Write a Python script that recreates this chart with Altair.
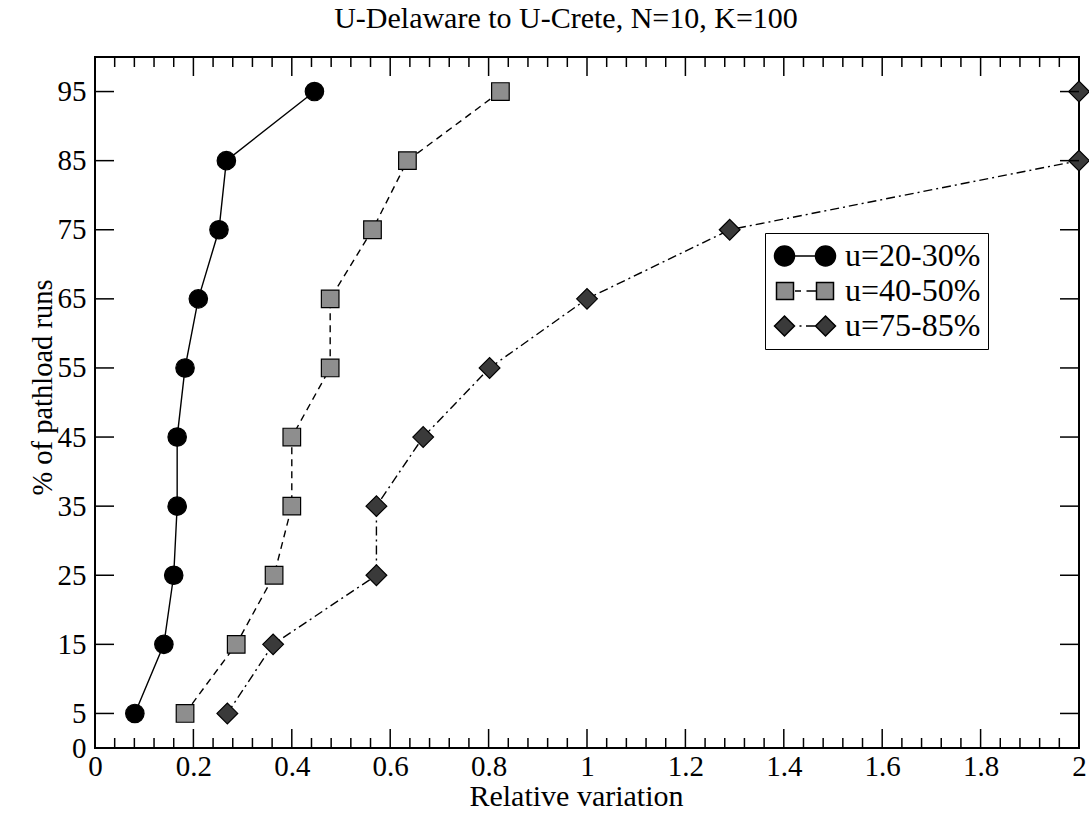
import altair as alt
import pandas as pd

# ---- data ----
pct = [5, 15, 25, 35, 45, 55, 65, 75, 85, 95]
s1 = [0.081, 0.140, 0.160, 0.167, 0.167, 0.183, 0.210, 0.252, 0.267, 0.446]
s2 = [0.183, 0.287, 0.364, 0.400, 0.400, 0.478, 0.478, 0.564, 0.635, 0.824]
s3 = [0.269, 0.362, 0.572, 0.572, 0.667, 0.802, 1.000, 1.290, 2.000, 2.000]
names = ["u=20-30%", "u=40-50%", "u=75-85%"]

x_major = [0, 0.2, 0.4, 0.6, 0.8, 1.0, 1.2, 1.4, 1.6, 1.8, 2.0]
x_minor = [0.04, 0.08, 0.12, 0.16, 0.24, 0.28, 0.32, 0.36, 0.44, 0.48, 0.52, 0.56,
           0.64, 0.68, 0.72, 0.76, 0.84, 0.88, 0.92, 0.96, 1.04, 1.08, 1.12, 1.16,
           1.24, 1.28, 1.32, 1.36, 1.44, 1.48, 1.52, 1.56, 1.64, 1.68, 1.72, 1.76,
           1.84, 1.88, 1.92, 1.96]
y_labels = [0, 5, 15, 25, 35, 45, 55, 65, 75, 85, 95]
y_ticks = [5, 15, 25, 35, 45, 55, 65, 75, 85, 95]

W, H = 984, 691
FONT = "Liberation Serif"

rows = []
for name, xs_ in zip(names, [s1, s2, s3]):
    for p, v in zip(pct, xs_):
        rows.append({"series": name, "x": v, "pct": p})
df = pd.DataFrame(rows)

xs = alt.Scale(domain=[0, 2], nice=False, zero=False)
ys = alt.Scale(domain=[0, 100], nice=False, zero=False)

x_axis = alt.Axis(values=x_major, format="~g", ticks=False, domain=False, grid=False,
                  labelFont=FONT, labelFontSize=29, labelPadding=4, labelOverlap=False,
                  labelFlush=False, labelBound=False,
                  labelColor="black", title="Relative variation", titleFont=FONT,
                  titleFontSize=30, titleFontWeight="normal", titleColor="black",
                  titleX=481, titlePadding=0)
y_axis = alt.Axis(values=y_labels, ticks=False, domain=False, grid=False,
                  labelFont=FONT, labelFontSize=29, labelPadding=9, labelOverlap=False,
                  labelFlush=False, labelBound=False,
                  labelColor="black", title="% of pathload runs", titleFont=FONT,
                  titleFontSize=28.5, titleFontWeight="normal", titleColor="black",
                  titleX=-53, titleY=330, titleBaseline="middle", titleAlign="center",
                  titleAngle=270)


def X(field):
    return alt.X(field, scale=xs, axis=x_axis, title="Relative variation")


def Y(field):
    return alt.Y(field, scale=ys, axis=y_axis, title="% of pathload runs")


styles = [
    ("circle", "black", 340, []),
    ("square", "#8e8e8e", 310, [7, 5]),
    ("diamond", "#3a3a3a", 430, [9, 4, 2, 4]),
]

layers = []
for name, (shape, fill, size, dash) in zip(names, styles):
    sub = df[df.series == name]
    line_kw = dict(color="black", strokeWidth=1.4)
    if dash:
        line_kw["strokeDash"] = dash
    line = alt.Chart(sub).mark_line(**line_kw).encode(x=X("x:Q"), y=Y("pct:Q"), order="pct:Q")
    pts = alt.Chart(sub).mark_point(shape=shape, filled=True, fill=fill, stroke="black",
                                    strokeWidth=1.2, size=size, opacity=1).encode(
        x=X("x:Q"), y=Y("pct:Q"))
    layers += [line, pts]


# inward ticks on all four sides
def vrule(vals, y1, y2):
    return alt.Chart(pd.DataFrame({"v": vals})).mark_rule(color="black", strokeWidth=1.5).encode(
        x=X("v:Q"), y=alt.value(y1), y2=alt.value(y2))


def hrule(vals, x1, x2):
    return alt.Chart(pd.DataFrame({"v": vals})).mark_rule(color="black", strokeWidth=1.5).encode(
        y=Y("v:Q"), x=alt.value(x1), x2=alt.value(x2))


layers += [
    vrule(x_major, H, H - 19), vrule(x_minor, H, H - 10),
    vrule(x_major, 0, 19), vrule(x_minor, 0, 10),
    hrule(y_ticks, 0, 19), hrule(y_ticks, W, W - 19),
]

# legend with line-and-marker symbols
paths = [
    "M-3.05,0A1,1 0 1,0 -1.05,0A1,1 0 1,0 -3.05,0Z M1.05,0A1,1 0 1,0 3.05,0A1,1 0 1,0 1.05,0Z M-1.05,0L1.05,0",
    "M-2.85,-0.85H-1.15V0.85H-2.85Z M1.15,-0.85H2.85V0.85H1.15Z M-1.0,0H-0.4M0.15,0H1.15",
    "M-3.05,0L-2.05,-1L-1.05,0L-2.05,1Z M1.05,0L2.05,-1L3.05,0L2.05,1Z M-0.55,0H-0.35M0.1,0H1.05",
]
fills = ["black", "#8e8e8e", "#3a3a3a"]
leg = alt.Legend(title=None, orient="none", legendX=670, legendY=176,
                 labelFont=FONT, labelFontSize=32, labelColor="black",
                 symbolOffset=17, labelOffset=24, rowPadding=3,
                 padding=7, strokeColor="black", fillColor="white",
                 symbolStrokeWidth=1.5, symbolSize=400,
                 symbolOpacity=1, labelLimit=400)
legend_layer = alt.Chart(df).transform_filter("false").mark_point(
    filled=True, size=400, strokeWidth=1.5, opacity=1).encode(
    x=X("x:Q"), y=Y("pct:Q"),
    shape=alt.Shape("series:N", scale=alt.Scale(domain=names, range=paths), legend=leg),
    fill=alt.Fill("series:N", scale=alt.Scale(domain=names, range=fills), legend=leg),
    stroke=alt.Stroke("series:N", scale=alt.Scale(domain=names, range=["black", "black", "black"]), legend=leg),
)
layers.append(legend_layer)

chart = alt.layer(*layers).properties(
    width=W, height=H,
    background="white",
    autosize=alt.AutoSizeParams(type="none"),
    padding={"left": 95, "top": 57, "right": 10, "bottom": 67},
    title=alt.Title("U-Delaware to U-Crete, N=10, K=100", font=FONT, fontSize=30,
                    fontWeight="normal", color="black", anchor="middle", dx=-21, offset=22),
).configure_view(stroke="black", strokeWidth=2)

chart.save("out.html", embed_options={"renderer": "svg", "actions": False})
